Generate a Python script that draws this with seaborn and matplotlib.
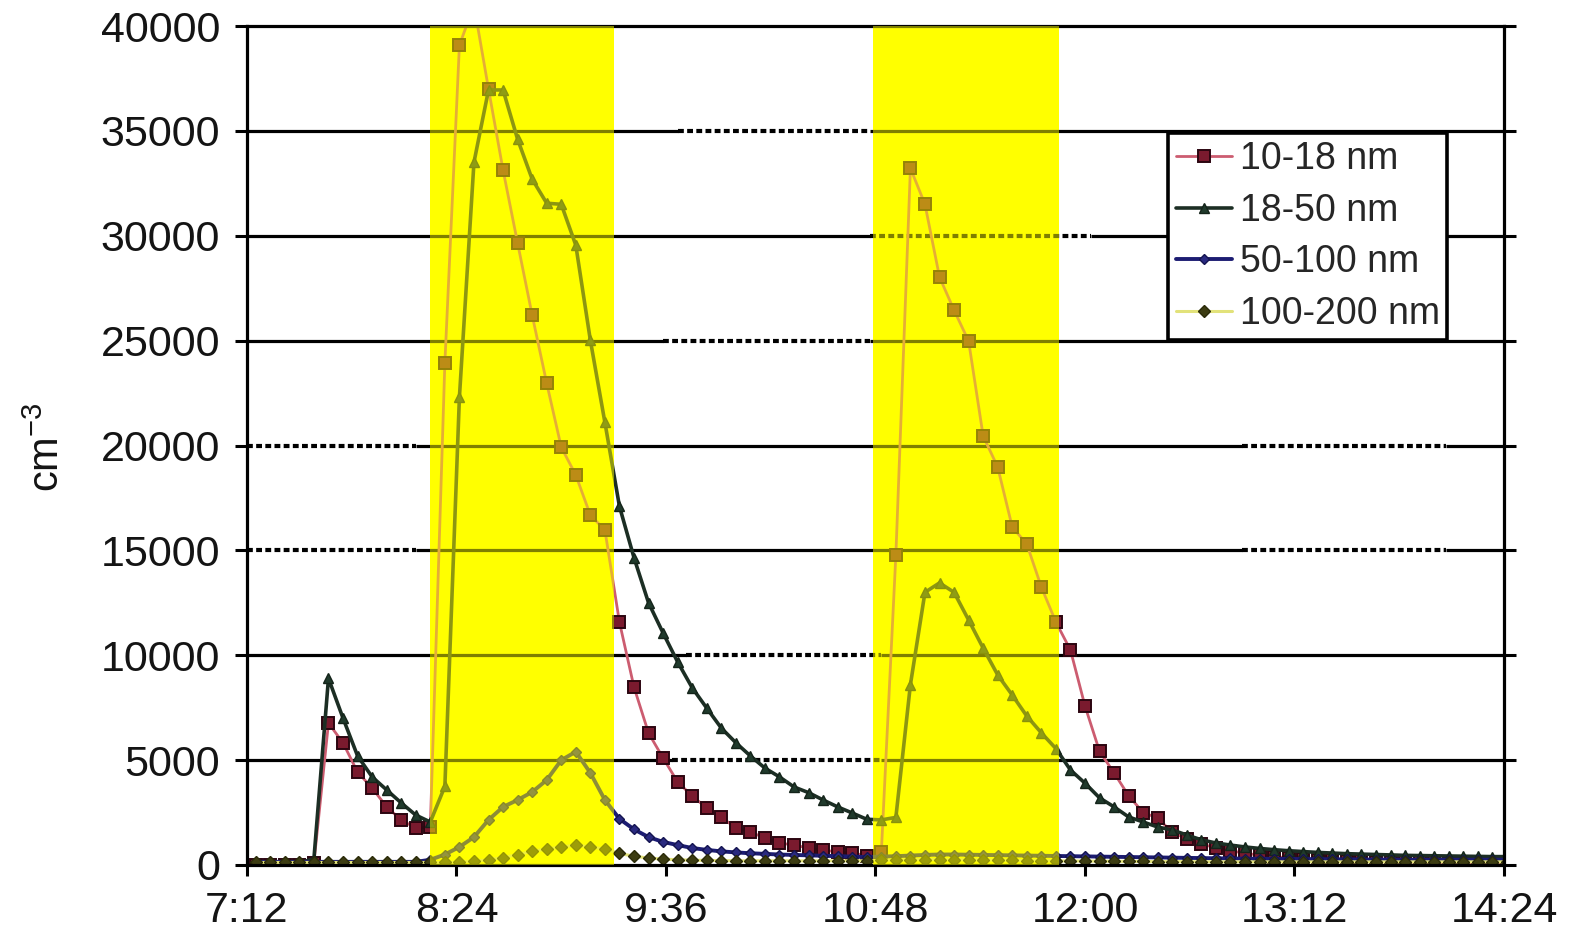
import numpy as np
import pandas as pd
import matplotlib
matplotlib.use("Agg")
import matplotlib.pyplot as plt
import seaborn as sns

# ---------------- data ----------------
series_names = ["10-18 nm", "18-50 nm", "50-100 nm", "100-200 nm"]
tick_labels = ["7:12", "8:24", "9:36", "10:48", "12:00", "13:12", "14:24"]
y_ticks = [0, 5000, 10000, 15000, 20000, 25000, 30000, 35000, 40000]
shade_periods = [("8:15", "9:18"), ("10:47", "11:51")]
first_sample = "07:15"   # samples every 5 minutes

nm10_18 = [0, 0, 0, 0, 100, 6770, 5820, 4430, 3670, 2770,
           2150, 1760, 1810, 23930, 39080, 41000, 37000, 33130, 29650, 26220,
           22970, 19920, 18590, 16680, 15970, 11580, 8480, 6290, 5100, 3960,
           3290, 2720, 2290, 1760, 1570, 1290, 1050, 950, 810, 715,
           620, 570, 450, 600, 14780, 33220, 31500, 28030, 26450, 24980,
           20450, 18970, 16110, 15300, 13250, 11580, 10250, 7580, 5420, 4390,
           3300, 2500, 2240, 1550, 1250, 1000, 820, 680, 560, 470,
           400, 340, 290, 250, 220, 200, 180, 160, 150, 140,
           130, 120, 110, 100, 100, 90, 90]
nm18_50 = [100, 100, 100, 100, 300, 8900, 7000, 5200, 4200, 3580,
           2960, 2380, 2050, 3750, 22300, 33500, 36950, 36950, 34600, 32700,
           31550, 31500, 29550, 25020, 21100, 17100, 14650, 12500, 11060, 9680,
           8450, 7480, 6530, 5830, 5200, 4620, 4200, 3720, 3450, 3100,
           2770, 2480, 2180, 2150, 2270, 8600, 13000, 13450, 13000, 11680,
           10340, 9060, 8100, 7100, 6300, 5550, 4530, 3900, 3200, 2770,
           2290, 2050, 1810, 1670, 1430, 1200, 1050, 950, 860, 790,
           730, 680, 640, 600, 570, 540, 520, 500, 480, 460,
           450, 440, 430, 420, 410, 400, 400]
nm50_100 = [150, 150, 150, 150, 150, 150, 150, 150, 150, 150,
            150, 150, 250, 500, 860, 1330, 2150, 2770, 3100, 3480,
            4050, 5000, 5400, 4390, 3100, 2200, 1700, 1330, 1100, 950,
            810, 720, 650, 600, 560, 530, 500, 480, 460, 440,
            420, 400, 380, 400, 420, 450, 480, 500, 500, 490,
            480, 470, 460, 450, 440, 430, 420, 410, 400, 390,
            380, 370, 360, 350, 340, 330, 320, 310, 300, 300,
            290, 290, 280, 280, 270, 270, 260, 260, 260, 250,
            250, 250, 250, 250, 250, 250, 250]
nm100_200 = [120, 120, 120, 120, 120, 120, 120, 120, 120, 120,
             120, 120, 120, 120, 150, 180, 250, 350, 500, 650,
             760, 860, 950, 860, 760, 550, 420, 330, 280, 250,
             230, 220, 210, 200, 200, 200, 200, 200, 200, 200,
             200, 200, 200, 220, 240, 250, 260, 260, 250, 250,
             240, 230, 220, 210, 200, 200, 190, 190, 180, 180,
             170, 170, 160, 160, 160, 150, 150, 150, 150, 150,
             150, 150, 150, 150, 150, 150, 150, 150, 150, 150,
             150, 150, 150, 150, 150, 150, 150]

# ---------------- styling ----------------
styles = {
    "10-18 nm": dict(color="#cc5c70", marker="s", markersize=9, mfc="#7a1a2e", mec="#2b0510", mew=1.4, lw=2.0),
    "18-50 nm": dict(color="#1c2e24", marker="^", markersize=7, mfc="#203a2c", mec="#14241a", mew=1.0, lw=2.6),
    "50-100 nm": dict(color="#1c1c72", marker="D", markersize=5, mfc="#2a2a80", mec="#141450", mew=1.0, lw=2.8),
    "100-200 nm": dict(color="#e2e27a", marker="D", markersize=6, mfc="#3c3c12", mec="#2a2a08", mew=1.0, lw=2.2),
}
# partially dashed grid segments (start, end in h:mm) seen in the reference
dash_spans = {
    35000: [("9:40", "10:46")],
    30000: [("10:46", "12:02")],
    25000: [("9:35", "10:46")],
    20000: [("7:12", "8:10"), ("12:54", "14:04")],
    15000: [("7:12", "8:10"), ("12:54", "14:04")],
    10000: [("9:43", "10:50")],
    5000: [("9:38", "10:50")],
}


def to_min(s):
    h, m = s.split(":")
    return int(h) * 60 + int(m)


sns.set_theme(style="white")
plt.rcParams["font.family"] = ["Liberation Sans", "DejaVu Sans"]
plt.rcParams["mathtext.fontset"] = "custom"
plt.rcParams["mathtext.rm"] = "Liberation Sans"
plt.rcParams["mathtext.it"] = "Liberation Sans"

fig = plt.figure(figsize=(15.79, 9.31), dpi=100)
fig.patch.set_facecolor("white")
ax = fig.add_axes([247 / 1579, 66 / 931, (1504 - 247) / 1579, (865 - 26) / 931])
ax.set_facecolor("white")

times = pd.date_range("2000-01-01 " + first_sample, periods=len(nm10_18), freq="5min")
x = np.asarray(times.hour * 60 + times.minute, dtype=float)

xmin, xmax = to_min(tick_labels[0]), to_min(tick_labels[-1])

# yellow background of the shaded periods
for a, b in shade_periods:
    ax.axvspan(to_min(a), to_min(b), color="#ffff00", lw=0, zorder=0.5)

# grid lines (solid with dashed portions)
glw = 2.3
for yv in y_ticks[1:-1]:
    spans = sorted(dash_spans.get(yv, []), key=lambda s: to_min(s[0]))
    cur = xmin
    for a, b in spans:
        a, b = to_min(a), to_min(b)
        if a > cur:
            ax.plot([cur, a], [yv, yv], color="black", lw=glw, zorder=1, solid_capstyle="butt")
        ax.plot([a, b], [yv, yv], color="black", lw=3.0, zorder=1, linestyle=(0, (1.4, 0.8)),
                dash_capstyle="butt")
        cur = b
    if cur < xmax:
        ax.plot([cur, xmax], [yv, yv], color="black", lw=glw, zorder=1, solid_capstyle="butt")

# data series
data = {"10-18 nm": nm10_18, "18-50 nm": nm18_50, "50-100 nm": nm50_100, "100-200 nm": nm100_200}
handles = []
for i, name in enumerate(series_names):
    st = styles[name]
    sns.lineplot(x=x, y=np.asarray(data[name], dtype=float), ax=ax, color=st["color"], lw=st["lw"],
                 marker=st["marker"], markersize=st["markersize"], markerfacecolor=st["mfc"],
                 markeredgecolor=st["mec"], markeredgewidth=st["mew"], label=name, zorder=2 + i * 0.1,
                 estimator=None, sort=False)
    handles.append(ax.get_lines()[-1])

# translucent yellow overlay (highlighter look)
for a, b in shade_periods:
    ax.axvspan(to_min(a), to_min(b), color="#ffff00", alpha=0.5, lw=0, zorder=6)

ax.set_xlim(xmin, xmax)
ax.set_ylim(0, 40000)
ax.set_xticks([to_min(t) for t in tick_labels])
ax.set_xticklabels(tick_labels)
ax.set_yticks(y_ticks)
ax.set_yticklabels([str(v) for v in y_ticks])
ax.set_xlabel("")
ax.set_ylabel("")

for sp in ax.spines.values():
    sp.set_visible(True)
    sp.set_color("black")
    sp.set_linewidth(2.3)

ax.tick_params(axis="y", direction="out", length=8.5, width=2.2, colors="black", pad=11, labelsize=31,
               left=True, right=True)
ax.tick_params(axis="x", direction="out", length=8, width=2.2, colors="black", pad=11, labelsize=31,
               bottom=True)
for lab in ax.get_xticklabels() + ax.get_yticklabels():
    lab.set_color("#141414")

leg = ax.legend(handles=handles, labels=series_names, loc="upper left", bbox_to_anchor=(0.733, 0.872),
                frameon=True, fancybox=False, edgecolor="black", facecolor="white", framealpha=1,
                fontsize=27, handlelength=1.5, handletextpad=0.2, borderpad=0.2, labelspacing=0.42,
                borderaxespad=0)
leg.get_frame().set_linewidth(2.6)
leg.set_zorder(8)

fig.text(48 / 1579, 1 - 447 / 931, r"cm$^{-3}$", rotation=90, ha="center", va="center",
         fontsize=30, color="#141414")

fig.savefig("out.png", dpi=100)
